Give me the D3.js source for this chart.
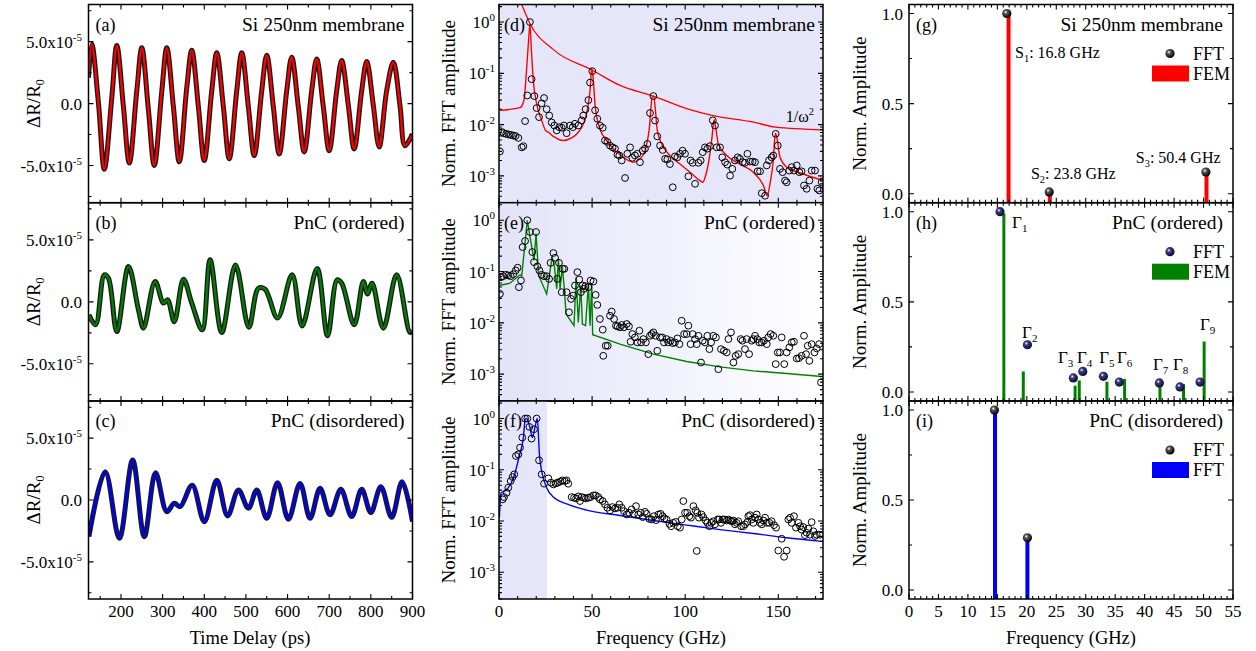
<!DOCTYPE html>
<html lang="en">
<head>
<meta charset="utf-8">
<title>Time traces, FFT spectra and mode amplitudes</title>
<script src="https://cdn.jsdelivr.net/npm/d3@7"></script>
<style>
  body { margin: 0; background: #fff; }
  text { font-family: "Liberation Serif", "Times New Roman", serif; fill: #000; }
</style>
</head>
<body>
<svg id="fig" width="1256" height="651"></svg>
<script>
// ---- data (time traces in units of 1e-5) ----
var traceA = [[122,2.1],[130,4.8],[146,0.0],[160,-5.3],[178,0.5],[190,4.7],[206,-0.3],[220,-4.8],[238,1.05],[250,4.5],[266,-0.56],[280,-5.0],[298,1.0],[310,4.5],[326,-0.3],[340,-4.7],[358,1.3],[370,4.3],[386,-0.3],[400,-4.6],[418,1.05],[430,4.1],[446,-0.3],[460,-4.46],[478,1.05],[490,4.1],[506,-0.3],[520,-4.2],[538,1.05],[550,3.9],[566,-0.3],[580,-4.06],[598,1.05],[610,3.74],[626,-0.3],[640,-3.9],[658,1.05],[670,3.6],[686,-0.3],[700,-3.8],[718,1.05],[730,3.47],[746,-0.16],[760,-3.66],[778,1.05],[790,3.39],[806,-0.16],[820,-3.5],[838,1.05],[854,3.33],[870,-0.16],[882,-3.4],[900,-2.45]];
var traceB = [[123,-1.05],[139,-1.85],[160,2.18],[170,1.9],[190,-2.4],[218,2.85],[242,-0.65],[254,-2.12],[282,1.64],[302,-0.1],[312,0.16],[328,-1.6],[350,1.83],[370,-0.1],[395,-2.26],[414,3.39],[442,-2.47],[475,2.98],[507,-2.04],[530,1.1],[546,1.02],[576,-1.3],[611,2.18],[635,-1.94],[671,2.7],[696,-2.74],[719,1.77],[730,1.5],[760,-1.85],[782,1.64],[792,0.64],[803,1.5],[830,-2.12],[862,2.18],[894,-2.47],[900,-2.3]];
var traceC = [[123,-2.96],[162,2.28],[196,-3.1],[228,3.23],[256,-2.96],[283,2.2],[310,-0.94],[328,-0.27],[342,-0.54],[371,1.2],[400,-1.75],[430,1.6],[456,-1.29],[482,0.8],[506,-0.67],[526,0.8],[550,-1.48],[576,1.4],[602,-1.56],[630,1.34],[654,-1.48],[678,0.94],[702,-1.2],[728,0.86],[754,-1.34],[778,0.86],[800,-1.02],[824,1.08],[850,-1.4],[875,1.48],[900,-1.75]];

// ---- FFT spectra [GHz, normalised amplitude] ----
var fftD = [[0.5,0.003],[1.4,0.0072],[2.6,0.0068],[3.9,0.0066],[5.2,0.0064],[6.4,0.0063],[7.7,0.0061],[8.9,0.006],[10.4,0.0055],[12.2,0.0036],[13.1,0.0038],[14.0,0.0117],[15.2,0.037],[16.6,1.0],[17.5,0.077],[19.0,0.036],[20.2,0.021],[21.5,0.014],[22.9,0.026],[24.2,0.033],[25.6,0.02],[27.0,0.015],[28.3,0.011],[29.7,0.0096],[31.0,0.0077],[32.4,0.0089],[33.7,0.0087],[34.9,0.0096],[36.3,0.0068],[38.1,0.0096],[39.6,0.0089],[40.8,0.0104],[42.6,0.0096],[44.4,0.0121],[45.3,0.015],[46.5,0.02],[48.0,0.03],[48.9,0.066],[50.1,0.11],[51.6,0.019],[52.8,0.013],[54.2,0.0096],[55.7,0.0087],[56.9,0.0049],[58.2,0.0046],[59.6,0.0039],[61.0,0.0036],[62.3,0.0034],[63.6,0.0026],[64.6,0.0025],[65.9,0.002],[67.7,0.00091],[68.9,0.0027],[70.4,0.0036],[71.6,0.00225],[73.0,0.0025],[74.3,0.0027],[75.7,0.00185],[77.2,0.0031],[78.4,0.0034],[79.7,0.0042],[81.1,0.0168],[82.9,0.036],[83.8,0.012],[85.0,0.0059],[86.5,0.0039],[87.9,0.0032],[89.2,0.00215],[90.4,0.0021],[91.8,0.0017],[93.3,0.0006],[94.5,0.0024],[95.8,0.0023],[97.2,0.0027],[98.6,0.0031],[99.9,0.0027],[101.7,0.00098],[102.9,0.002],[104.0,0.0018],[105.3,0.0007],[107.1,0.0018],[108.3,0.002],[109.4,0.0029],[110.6,0.0036],[111.9,0.0034],[113.3,0.0038],[114.8,0.0121],[116.0,0.0096],[116.9,0.0036],[118.7,0.0036],[119.9,0.0023],[121.4,0.00185],[122.6,0.00166],[124.1,0.00101],[125.3,0.00137],[126.7,0.002],[128.2,0.0023],[129.4,0.00215],[130.9,0.00185],[132.1,0.0018],[133.4,0.0027],[134.8,0.0019],[136.2,0.0019],[137.5,0.00185],[138.9,0.00123],[140.2,0.00123],[141.1,0.00046],[142.9,0.00041],[143.8,0.0016],[145.0,0.002],[146.4,0.0023],[147.3,0.0025],[148.6,0.0066],[149.7,0.0039],[150.9,0.00137],[152.3,0.00118],[153.6,0.00081],[154.5,0.00075],[155.9,0.00127],[157.2,0.00148],[158.4,0.00127],[159.9,0.0016],[161.3,0.00118],[162.5,0.00123],[163.8,0.00065],[165.2,0.00056],[166.7,0.00081],[167.9,0.00127],[169.7,0.00127],[171.0,0.00056],[172.0,0.00052],[173.3,0.00075]];
var fitD = [[0.5,0.019],[11.3,0.0214],[13.4,0.0298],[14.9,0.134],[15.9,0.444],[16.6,0.91],[17.4,0.283],[18.4,0.0733],[20.2,0.0256],[22.9,0.0121],[25.2,0.0075],[26.5,0.0071],[29.2,0.0059],[34.6,0.0049],[39.0,0.0055],[42.6,0.0071],[45.3,0.0104],[47.4,0.019],[48.9,0.0467],[49.8,0.124],[50.5,0.085],[51.7,0.022],[54.2,0.0083],[57.8,0.0049],[61.4,0.0034],[65.0,0.0026],[72.1,0.00185],[75.7,0.00215],[78.4,0.0031],[80.7,0.0083],[82.3,0.0346],[83.1,0.0356],[84.0,0.019],[85.0,0.0077],[87.4,0.0042],[91.8,0.0025],[97.2,0.0017],[102.6,0.00118],[107.9,0.00081],[109.4,0.00075],[111.2,0.00109],[113.0,0.0023],[114.4,0.0057],[115.5,0.0125],[116.2,0.0096],[117.8,0.0042],[122.3,0.0025],[129.4,0.0017],[136.6,0.00118],[142.0,0.00065],[144.1,0.00041],[145.5,0.0007],[147.3,0.002],[148.4,0.0068],[149.1,0.0059],[150.9,0.0023],[154.5,0.00148],[163.4,0.00109],[173.3,0.00083]];
var invOmega2 = [[12.2,2.2],[16.6,0.94],[29.2,0.29],[50.1,0.115],[65.0,0.058],[82.9,0.036],[100.8,0.0204],[115.0,0.015],[136.6,0.0112],[148.6,0.0089],[174,0.0079]];

var fftE = [[0.5,0.0367],[1.1,0.0778],[2.3,0.0814],[3.8,0.0865],[5.0,0.084],[6.3,0.0814],[7.7,0.089],[9.0,0.105],[10.0,0.119],[10.7,0.0496],[11.8,0.067],[12.7,0.30],[14.0,0.394],[15.2,1.0],[16.6,0.59],[17.9,0.24],[18.8,0.153],[19.9,0.59],[20.6,0.126],[21.7,0.105],[22.9,0.0865],[24.2,0.0814],[25.6,0.0814],[26.9,0.072],[27.7,0.148],[29.2,0.23],[30.1,0.186],[31.3,0.072],[32.2,0.148],[33.7,0.0396],[34.2,0.113],[35.1,0.113],[36.3,0.0396],[37.6,0.0161],[38.7,0.0293],[39.9,0.034],[40.8,0.0535],[42.1,0.0975],[43.1,0.07],[44.0,0.0396],[44.9,0.0535],[45.6,0.046],[46.4,0.0519],[48.0,0.0496],[49.2,0.067],[50.7,0.064],[51.9,0.0351],[52.8,0.0224],[54.2,0.0119],[55.7,0.00737],[56.0,0.00228],[57.3,0.00358],[58.4,0.00358],[59.6,0.0138],[60.5,0.0166],[61.8,0.0119],[62.8,0.0088],[63.7,0.00855],[65.0,0.0082],[65.9,0.0091],[67.1,0.0082],[68.6,0.0095],[69.8,0.00855],[70.7,0.00429],[71.6,0.00605],[73.0,0.0052],[74.3,0.00416],[75.4,0.00703],[76.3,0.00416],[77.5,0.00483],[78.9,0.00416],[80.2,0.00246],[81.1,0.0056],[82.0,0.00605],[82.9,0.00653],[84.1,0.0056],[85.0,0.00286],[86.5,0.0052],[87.7,0.0052],[88.6,0.00416],[90.0,0.00483],[90.9,0.00416],[92.2,0.00449],[93.3,0.00404],[94.5,0.00416],[95.8,0.00498],[96.9,0.00385],[98.1,0.011],[99.4,0.00605],[100.8,0.00605],[101.7,0.0088],[102.9,0.00385],[104.0,0.00605],[105.3,0.00483],[106.2,0.00385],[107.1,0.0056],[108.5,0.00169],[109.4,0.00449],[110.6,0.00416],[111.9,0.0056],[113.0,0.00308],[113.9,0.00416],[115.1,0.0056],[116.5,0.0052],[117.8,0.00125],[119.2,0.00308],[120.8,0.00286],[122.3,0.00265],[123.2,0.00483],[124.6,0.00653],[125.9,0.00169],[127.1,0.00228],[128.5,0.00246],[129.8,0.00483],[130.7,0.00449],[132.1,0.00308],[133.0,0.00483],[134.3,0.00246],[135.7,0.00449],[136.6,0.00483],[137.5,0.0056],[138.7,0.00483],[139.8,0.00416],[141.1,0.00416],[142.3,0.00449],[143.8,0.00385],[144.6,0.0052],[145.9,0.00605],[147.3,0.0056],[148.6,0.00157],[149.7,0.00265],[150.9,0.00265],[151.8,0.0052],[153.2,0.00157],[154.5,0.00265],[155.9,0.00332],[157.2,0.00416],[158.4,0.00429],[159.9,0.00202],[161.1,0.00205],[162.5,0.00228],[163.8,0.0056],[164.9,0.00246],[165.8,0.00358],[166.7,0.00182],[167.9,0.00385],[169.4,0.00265],[170.6,0.00318],[171.9,0.00385],[172.9,0.00069]];
var fitE = [[0,0.0535],[5.9,0.0594],[11.3,0.0865],[12.2,0.082],[15.2,1.0],[17.9,0.258],[18.8,0.165],[19.9,0.548],[21.3,0.084],[25.6,0.0367],[28.5,0.192],[29.7,0.132],[31.0,0.046],[31.9,0.178],[32.8,0.046],[34.0,0.122],[35.1,0.046],[36.0,0.0149],[40.3,0.0088],[41.4,0.0778],[42.6,0.0102],[43.9,0.0535],[44.8,0.0095],[46.5,0.0088],[48.0,0.0576],[48.9,0.0088],[49.8,0.0576],[50.3,0.00587],[65.0,0.00385],[82.9,0.00246],[100.8,0.00177],[118.7,0.00139],[136.6,0.00116],[154.5,0.00103],[173.3,0.0009]];

var fftF = [[2.0,0.0264],[2.7,0.0293],[4.1,0.0356],[5.0,0.0447],[6.3,0.0603],[7.3,0.0722],[8.2,0.0814],[9.1,0.186],[10.4,0.2],[11.3,0.271],[12.5,0.425],[14.0,1.0],[15.2,1.0],[16.3,0.687],[17.5,0.406],[18.8,0.618],[20.2,1.0],[21.5,0.153],[22.9,0.0814],[24.2,0.0535],[26.5,0.068],[27.9,0.056],[29.2,0.0519],[30.4,0.0542],[31.5,0.056],[32.8,0.0585],[34.0,0.0621],[35.3,0.0603],[36.3,0.0621],[37.2,0.0535],[39.0,0.0293],[40.3,0.0284],[41.4,0.0276],[42.6,0.0302],[43.5,0.0245],[44.4,0.0293],[45.6,0.0284],[46.7,0.0276],[48.0,0.0284],[49.2,0.0293],[50.7,0.0316],[51.9,0.0316],[53.3,0.0293],[54.2,0.0264],[55.7,0.0245],[56.9,0.0211],[58.2,0.0181],[59.6,0.0161],[60.9,0.0187],[62.3,0.0176],[63.6,0.0181],[64.6,0.0211],[65.9,0.0181],[67.1,0.0156],[68.6,0.0134],[69.8,0.0145],[71.2,0.0168],[72.5,0.0138],[73.6,0.0195],[74.8,0.0134],[76.1,0.0145],[77.2,0.0119],[78.4,0.0151],[79.3,0.0138],[80.7,0.011],[82.0,0.0107],[83.2,0.0124],[84.3,0.0104],[85.6,0.0134],[86.8,0.0138],[87.9,0.0124],[88.8,0.0112],[90.0,0.0107],[91.5,0.0088],[92.4,0.0079],[93.6,0.0092],[94.9,0.0096],[96.0,0.0079],[97.2,0.0074],[98.1,0.0107],[99.0,0.0245],[99.9,0.0145],[101.1,0.0145],[102.2,0.0124],[103.1,0.0116],[104.4,0.0195],[105.6,0.0161],[106.2,0.0026],[106.5,0.0145],[107.4,0.0116],[108.8,0.0134],[109.7,0.0119],[111.0,0.0102],[111.9,0.0092],[113.0,0.0079],[113.9,0.0092],[115.1,0.0099],[116.0,0.0086],[117.4,0.0107],[118.3,0.0107],[119.2,0.0092],[120.1,0.0107],[121.0,0.0107],[122.3,0.0102],[123.2,0.0107],[124.1,0.0102],[125.0,0.0099],[125.9,0.0102],[126.7,0.0086],[127.6,0.0092],[128.5,0.0099],[130.0,0.0079],[131.2,0.0079],[132.1,0.0086],[133.4,0.0096],[133.9,0.0124],[134.8,0.013],[135.7,0.0107],[136.6,0.0092],[137.5,0.0116],[138.4,0.0134],[139.3,0.0107],[140.2,0.0092],[141.1,0.0086],[142.0,0.0102],[142.9,0.0116],[143.8,0.0092],[145.2,0.0092],[146.4,0.0099],[147.7,0.0083],[148.8,0.0074],[150.0,0.00265],[151.8,0.0045],[153.1,0.002],[154.5,0.00265],[155.4,0.0107],[156.3,0.0116],[157.2,0.0092],[158.4,0.0124],[159.5,0.0074],[160.8,0.0092],[161.7,0.0079],[162.5,0.0068],[163.4,0.0076],[164.3,0.0053],[165.2,0.0059],[166.1,0.0071],[167.0,0.0054],[167.9,0.0095],[168.8,0.0063],[169.7,0.0051],[170.6,0.0054],[172.4,0.0054]];
var fitF = [[0.2,0.0116],[1.1,0.0356],[3.2,0.0384],[7.7,0.068],[10.9,0.186],[13.1,0.425],[14.1,0.97],[14.9,1.0],[16.6,0.667],[17.9,0.425],[19.3,0.667],[20.6,1.0],[21.7,0.2],[22.9,0.0946],[25.6,0.0447],[29.2,0.0293],[38.1,0.0204],[47.1,0.0163],[65.0,0.0128],[82.9,0.0102],[100.8,0.0083],[118.7,0.0068],[136.6,0.0057],[154.5,0.0047],[173.3,0.004]];

// ---- mode amplitudes [GHz, normalised amplitude] ----
var fftG = [[16.6,1.0],[23.8,0.01],[50.4,0.12]];
var femG = [[16.9,0.99],[23.9,0.0],[50.5,0.1]];
var fftH = [[15.45,1.0],[20.1,0.262],[27.9,0.078],[29.5,0.114],[33.0,0.087],[35.7,0.055],[42.5,0.05],[46.0,0.028],[49.4,0.055]];
var femH = [[16.1,0.99],[19.4,0.114],[28.2,0.035],[28.9,0.064],[33.6,0.057],[36.6,0.072],[42.6,0.031],[46.6,0.044],[50.1,0.28]];
var fftI = [[14.5,1.0],[20.1,0.29]];
var barI = [[14.6,1.0],[20.1,0.29]];

// annotation anchors in data units
var sLabels = [["1",": 16.8 GHz",18.0,0.753],["2",": 23.8 GHz",20.7,0.082],["3",": 50.4 GHz",38.5,0.17]];
var gammaLabels = [["1",17.5,0.907],["2",19.2,0.297],["3",25.3,0.159],["4",28.5,0.159],["5",32.3,0.159],["6",35.3,0.159],["7",41.4,0.12],["8",44.8,0.12],["9",49.4,0.342]];

// ticks
var timeTicks = [200,300,400,500,600,700,800,900];
var dRTicks = [-5,0,5];
var freqTicks = [0,50,100,150];
var ampDecades = [1e-3,1e-2,1e-1,1];
var modeTicks = [0,5,10,15,20,25,30,35,40,45,50,55];
var normTicks = [0,0.5,1.0];

var panelTitles = ["Si 250nm membrane","PnC (ordered)","PnC (disordered)"];

// ---- layout ----
var svg = d3.select("#fig");
var rowEdges = [4.5, 202.7, 401, 599];
var defs = svg.append("defs");

var xT = d3.scaleLinear().domain([122, 900]).range([88.5, 412.5]);
var xF = d3.scaleLinear().domain([0, 174]).range([499, 823]);
var xM = d3.scaleLinear().domain([0, 55]).range([909, 1233]);

function yTime(r) { return d3.scaleLinear().domain([-8, 8]).range([rowEdges[r+1], rowEdges[r]]); }
function yAmp(r) { return d3.scaleLog().domain([3e-4, 2.2]).range([rowEdges[r+1], rowEdges[r]]); }
function yNorm(r) { return d3.scaleLinear().domain([-0.05, 1.05]).range([rowEdges[r+1], rowEdges[r]]); }

// sphere gradients
function sphereGrad(id, mid, dark) {
	var gr = defs.append("radialGradient").attr("id", id)
		.attr("cx", "38%").attr("cy", "35%").attr("r", "65%");
	gr.append("stop").attr("offset", "0%").attr("stop-color", "#ffffff");
	gr.append("stop").attr("offset", "30%").attr("stop-color", mid);
	gr.append("stop").attr("offset", "100%").attr("stop-color", dark);
}
sphereGrad("ballBlack", "#555555", "#000000");
sphereGrad("ballNavy", "#3c3c80", "#0a0a35");

var fade = defs.append("linearGradient").attr("id", "fadeE").attr("x1", "0%").attr("x2", "100%");
fade.append("stop").attr("offset", "0%").attr("stop-color", "#e3e3f9");
fade.append("stop").attr("offset", "100%").attr("stop-color", "#ffffff");

function clipFor(id, x, y) {
	var xr = x.range(), yr = y.range();
	defs.append("clipPath").attr("id", id).append("rect")
		.attr("x", xr[0]).attr("y", yr[1]).attr("width", xr[1]-xr[0]).attr("height", yr[0]-yr[1]);
	return "url(#" + id + ")";
}

// frame with inward ticks on all four sides
function frame(x, y, xMaj, xMin, yMaj, yMin) {
	var g = svg.append("g");
	var xr = x.range(), yr = y.range();
	var x0 = xr[0], x1 = xr[1], yb = yr[0], yt = yr[1];
	var p = d3.path();
	function vt(v, len) { var px = x(v); p.moveTo(px, yb); p.lineTo(px, yb-len); p.moveTo(px, yt); p.lineTo(px, yt+len); }
	function ht(v, len) { var py = y(v); p.moveTo(x0, py); p.lineTo(x0+len, py); p.moveTo(x1, py); p.lineTo(x1-len, py); }
	xMaj.forEach(function(v){ vt(v, 5); });
	xMin.forEach(function(v){ vt(v, 3); });
	yMaj.forEach(function(v){ ht(v, 5); });
	yMin.forEach(function(v){ ht(v, 3); });
	g.append("path").attr("d", p.toString()).attr("stroke", "#000").attr("stroke-width", 1.1).attr("fill", "none");
	g.append("rect").attr("x", x0).attr("y", yt).attr("width", x1-x0).attr("height", yb-yt)
		.attr("fill", "none").attr("stroke", "#000").attr("stroke-width", 1.5);
}

function supText(g, x, y, base, sup, anchor, size) {
	var t = g.append("text").attr("x", x).attr("y", y).attr("text-anchor", anchor).attr("font-size", size);
	t.append("tspan").text(base);
	t.append("tspan").attr("dy", -7).attr("font-size", size*0.65).text(sup);
	return t;
}

function subText(g, x, y, base, sub, rest, anchor, size) {
	var t = g.append("text").attr("x", x).attr("y", y).attr("text-anchor", anchor).attr("font-size", size);
	t.append("tspan").text(base);
	t.append("tspan").attr("dy", 4).attr("font-size", size*0.65).text(sub);
	if (rest) t.append("tspan").attr("dy", -4).text(rest);
	return t;
}

function panelText(x0, x1, r, letter) {
	var yb = rowEdges[r] + 26;
	svg.append("text").attr("x", x0 + 7).attr("y", yb).attr("font-size", 18).text("(" + letter + ")");
	svg.append("text").attr("x", x1 - 8).attr("y", yb).attr("font-size", 19.5).attr("text-anchor", "end").text(panelTitles[r]);
}

// ---- left column: time traces ----
var traces = [traceA, traceB, traceC];
var traceCols = ["#ff0000", "#008000", "#0000ff"];
var timeMinor = d3.range(150, 900, 100);
traces.forEach(function(tr, r) {
	var y = yTime(r);
	var g = svg.append("g").attr("clip-path", clipFor("clipT" + r, xT, y));
	var line = d3.line().x(function(d){ return xT(d[0]); }).y(function(d){ return y(d[1]); }).curve(d3.curveCatmullRom.alpha(0.5));
	g.append("path").attr("d", line(tr)).attr("fill", "none").attr("stroke", "#1a1a1a")
		.attr("stroke-width", 5).attr("stroke-linejoin", "round");
	g.append("path").attr("d", line(tr)).attr("fill", "none").attr("stroke", traceCols[r]).attr("stroke-width", 2.3);
	frame(xT, y, timeTicks, timeMinor, dRTicks, [-7.5, -2.5, 2.5, 7.5]);
	dRTicks.forEach(function(v) {
		if (v === 0) svg.append("text").attr("x", 82).attr("y", y(v) + 6).attr("text-anchor", "end").attr("font-size", 17).text("0.0");
		else supText(svg, 82, y(v) + 6, (v < 0 ? "-" : "") + Math.abs(v).toFixed(1) + "x10", "-5", "end", 17);
	});
	var cy = (rowEdges[r] + rowEdges[r+1]) / 2;
	var t = svg.append("text").attr("transform", "translate(40," + cy + ") rotate(-90)").attr("text-anchor", "middle").attr("font-size", 19);
	t.append("tspan").text("\u0394R/R");
	t.append("tspan").attr("dy", 4).attr("font-size", 12).text("0");
	panelText(88.5, 412.5, r, "abc"[r]);
});
timeTicks.forEach(function(v) {
	svg.append("text").attr("x", xT(v)).attr("y", 617).attr("text-anchor", "middle").attr("font-size", 17).text(v);
});
svg.append("text").attr("x", 250).attr("y", 644).attr("text-anchor", "middle").attr("font-size", 18.5).text("Time Delay (ps)");

// ---- middle column: FFT spectra ----
var ampMinor = [];
[1e-4, 1e-3, 1e-2, 1e-1, 1].forEach(function(d) { for (var k = 2; k <= 9; k++) { var v = d*k; if (v > 3e-4 && v < 2.2) ampMinor.push(v); } });
var freqMinor = d3.range(10, 174, 10).filter(function(v){ return v % 50 !== 0; });
var spectra = [[fftD, fitD, "#ff0000"], [fftE, fitE, "#008000"], [fftF, fitF, "#0000ff"]];
spectra.forEach(function(s, r) {
	var y = yAmp(r);
	var yr = y.range();
	if (r === 0) svg.append("rect").attr("x", 499).attr("y", yr[1]).attr("width", 324).attr("height", yr[0]-yr[1]).attr("fill", "#e6e6fa");
	if (r === 1) svg.append("rect").attr("x", 499).attr("y", yr[1]).attr("width", 324).attr("height", yr[0]-yr[1]).attr("fill", "url(#fadeE)");
	if (r === 2) svg.append("rect").attr("x", xF(0)).attr("y", yr[1]).attr("width", xF(25.7)-xF(0)).attr("height", yr[0]-yr[1]).attr("fill", "#e6e6fa");
	var g = svg.append("g").attr("clip-path", clipFor("clipF" + r, xF, y));
	var line = d3.line().x(function(d){ return xF(d[0]); }).y(function(d){ return y(d[1]); })
		.curve(r === 1 ? d3.curveLinear : d3.curveMonotoneX);
	if (r === 0) {
		g.append("path").attr("d", d3.line().x(function(d){ return xF(d[0]); }).y(function(d){ return y(d[1]); }).curve(d3.curveMonotoneX)(invOmega2))
			.attr("fill", "none").attr("stroke", "#ff0000").attr("stroke-width", 1.3);
	}
	g.append("path").attr("d", line(s[1])).attr("fill", "none").attr("stroke", s[2]).attr("stroke-width", 1.4);
	g.selectAll("circle.pt").data(s[0]).enter().append("circle")
		.attr("cx", function(d){ return xF(d[0]); }).attr("cy", function(d){ return y(d[1]); })
		.attr("r", 3.4).attr("fill", "none").attr("stroke", "#000").attr("stroke-width", 1);
	frame(xF, y, freqTicks, freqMinor, ampDecades, ampMinor);
	ampDecades.forEach(function(v) {
		supText(svg, 495, y(v) + 6, "10", String(Math.round(Math.log10(v))), "end", 17);
	});
	var cy = (rowEdges[r] + rowEdges[r+1]) / 2;
	svg.append("text").attr("transform", "translate(455," + cy + ") rotate(-90)").attr("text-anchor", "middle")
		.attr("font-size", 19).text("Norm. FFT amplitude");
	panelText(497, 823, r, "def"[r]);
});
supText(svg, xF(154), yAmp(0)(0.011), "1/\u03c9", "2", "start", 16);
freqTicks.forEach(function(v) {
	svg.append("text").attr("x", xF(v)).attr("y", 617).attr("text-anchor", "middle").attr("font-size", 17).text(v);
});
svg.append("text").attr("x", 661).attr("y", 644).attr("text-anchor", "middle").attr("font-size", 18.5).text("Frequency (GHz)");

// ---- right column: mode amplitudes ----
var modeSets = [[fftG, femG, "#ff0000", "ballBlack", "FEM", 4], [fftH, femH, "#008000", "ballNavy", "FEM", 3], [fftI, barI, "#0000ff", "ballBlack", "FFT", 4]];
var modeMinor = d3.range(1, 55, 1).filter(function(v){ return v % 5 !== 0; });
modeSets.forEach(function(m, r) {
	var y = yNorm(r);
	var g = svg.append("g").attr("clip-path", clipFor("clipM" + r, xM, y));
	var base = y.range()[0];
	g.selectAll("rect.bar").data(m[1]).enter().append("rect")
		.attr("x", function(d){ return xM(d[0]) - m[5]/2; }).attr("width", m[5])
		.attr("y", function(d){ return y(d[1]); }).attr("height", function(d){ return base - y(d[1]); })
		.attr("fill", m[2]);
	g.selectAll("circle.ball").data(m[0]).enter().append("circle")
		.attr("cx", function(d){ return xM(d[0]); }).attr("cy", function(d){ return y(d[1]); })
		.attr("r", 4.6).attr("fill", "url(#" + m[3] + ")");
	frame(xM, y, modeTicks, modeMinor, normTicks, [0.25, 0.75]);
	normTicks.forEach(function(v) {
		svg.append("text").attr("x", 903).attr("y", y(v) + 6).attr("text-anchor", "end").attr("font-size", 17).text(v.toFixed(1));
	});
	var cy = (rowEdges[r] + rowEdges[r+1]) / 2;
	svg.append("text").attr("transform", "translate(866," + cy + ") rotate(-90)").attr("text-anchor", "middle")
		.attr("font-size", 19).text("Norm. Amplitude");
	panelText(909, 1231, r, "ghi"[r]);
	// legend
	var top = rowEdges[r];
	svg.append("circle").attr("cx", 1170).attr("cy", top + 49).attr("r", 4.6).attr("fill", "url(#" + m[3] + ")");
	svg.append("text").attr("x", 1193).attr("y", top + 55).attr("font-size", 18).text("FFT");
	svg.append("rect").attr("x", 1152).attr("y", top + 61).attr("width", 37).attr("height", 16).attr("fill", m[2]);
	svg.append("text").attr("x", 1193).attr("y", top + 75).attr("font-size", 18).text(m[4]);
});
var yg = yNorm(0), yh = yNorm(1);
sLabels.forEach(function(s) { subText(svg, xM(s[2]), yg(s[3]), "S", s[0], s[1], "start", 16); });
gammaLabels.forEach(function(s) { subText(svg, xM(s[1]), yh(s[2]), "\u0393", s[0], null, "start", 17); });
modeTicks.forEach(function(v) {
	svg.append("text").attr("x", xM(v)).attr("y", 617).attr("text-anchor", "middle").attr("font-size", 17).text(v);
});
svg.append("text").attr("x", 1071).attr("y", 644).attr("text-anchor", "middle").attr("font-size", 18.5).text("Frequency (GHz)");
</script>
</body>
</html>
